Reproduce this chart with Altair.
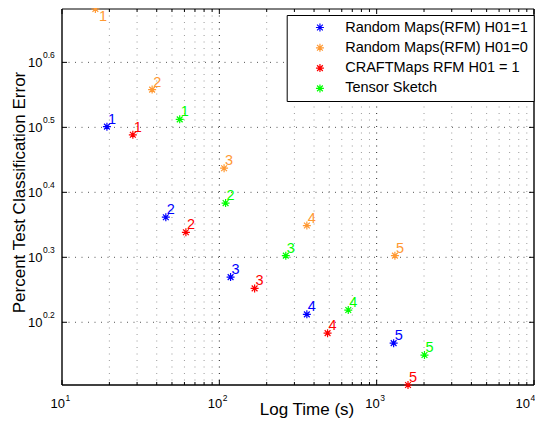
import altair as alt
import pandas as pd

# ---------------- data ----------------
series_names = ["Random Maps(RFM) H01=1", "Random Maps(RFM) H01=0",
                "CRAFTMaps RFM H01 = 1", "Tensor Sketch"]
series_colors = ["#0000ff", "#ff9933", "#ff0000", "#00ff00"]
point_labels = ["1", "2", "3", "4", "5"]

rfm_h1_time = [19.3, 45.7, 117.9, 360, 1282]
rfm_h1_err = [3.17, 2.30, 1.86, 1.63, 1.472]
rfm_h0_time = [16.3, 37.4, 107.2, 360, 1306]
rfm_h0_err = [4.81, 3.615, 2.736, 2.233, 2.007]
craft_time = [28.2, 61.3, 167.6, 487.5, 1582]
craft_err = [3.08, 2.18, 1.787, 1.525, 1.269]
ts_time = [56.0, 109.6, 264.5, 660, 2013]
ts_err = [3.253, 2.418, 2.007, 1.655, 1.411]

x_tick_exps = ["1", "2", "3", "4"]
y_tick_exps = ["0.2", "0.3", "0.4", "0.5", "0.6"]

# ---------------- tables ----------------
rows = []
for name, xs_, ys_ in zip(series_names,
                          [rfm_h1_time, rfm_h0_time, craft_time, ts_time],
                          [rfm_h1_err, rfm_h0_err, craft_err, ts_err]):
    for lab, xv, yv in zip(point_labels, xs_, ys_):
        rows.append({"series": name, "label": lab, "time": xv, "err": yv})
df = pd.DataFrame(rows)

all_err = rfm_h1_err + rfm_h0_err + craft_err + ts_err
x_domain = [10 ** int(x_tick_exps[0]), 10 ** int(x_tick_exps[-1])]
y_domain = [min(all_err), max(all_err)]

x_major = [10 ** int(e) for e in x_tick_exps]
x_minor = [m * 10 ** d for d in range(int(x_tick_exps[0]), int(x_tick_exps[-1])) for m in range(2, 10)]
df_xmaj = pd.DataFrame({"v": x_major, "base": "10", "exp": x_tick_exps})
df_xmin = pd.DataFrame({"v": x_minor})
df_xgrid_major = pd.DataFrame({"v": x_major[1:-1]})
df_y = pd.DataFrame({"v": [10 ** float(e) for e in y_tick_exps], "base": "10", "exp": y_tick_exps})
one = pd.DataFrame({"k": [0]})

# ---------------- style ----------------
W, H = 472, 376
FONT = "Liberation Sans"
STAR = "M-1,0L1,0M0,-1L0,1M-0.72,-0.72L0.72,0.72M-0.72,0.72L0.72,-0.72"
xs = alt.Scale(type="log", domain=x_domain, nice=False)
ys = alt.Scale(type="log", domain=y_domain, nice=False)
cscale = alt.Scale(domain=series_names, range=series_colors)
DASH = [1, 5.5]

# grid
xgrid_minor = alt.Chart(df_xmin).mark_rule(color="#9a9a9a", strokeWidth=1, strokeDash=DASH).encode(
    x=alt.X("v:Q", scale=xs, axis=None), y=alt.value(0), y2=alt.value(H))
xgrid_major = alt.Chart(df_xgrid_major).mark_rule(color="#222222", strokeWidth=1, strokeDash=DASH).encode(
    x=alt.X("v:Q", scale=xs, axis=None), y=alt.value(0), y2=alt.value(H))
ygrid = alt.Chart(df_y).mark_rule(color="#555555", strokeWidth=1, strokeDash=DASH).encode(
    y=alt.Y("v:Q", scale=ys, axis=None), x=alt.value(0), x2=alt.value(W))

# ticks (inward)
tick_style = dict(color="black", strokeWidth=1)
xt_maj_b = alt.Chart(df_xmaj).mark_rule(**tick_style).encode(
    x=alt.X("v:Q", scale=xs, axis=None), y=alt.value(H), y2=alt.value(H - 5))
xt_maj_t = alt.Chart(df_xmaj).mark_rule(**tick_style).encode(
    x=alt.X("v:Q", scale=xs, axis=None), y=alt.value(0), y2=alt.value(5))
xt_min_b = alt.Chart(df_xmin).mark_rule(**tick_style).encode(
    x=alt.X("v:Q", scale=xs, axis=None), y=alt.value(H), y2=alt.value(H - 3))
xt_min_t = alt.Chart(df_xmin).mark_rule(**tick_style).encode(
    x=alt.X("v:Q", scale=xs, axis=None), y=alt.value(0), y2=alt.value(3))
yt_l = alt.Chart(df_y).mark_rule(**tick_style).encode(
    y=alt.Y("v:Q", scale=ys, axis=None), x=alt.value(0), x2=alt.value(5))
yt_r = alt.Chart(df_y).mark_rule(**tick_style).encode(
    y=alt.Y("v:Q", scale=ys, axis=None), x=alt.value(W - 5), x2=alt.value(W))

# frame
frame_b = alt.Chart(one).mark_rule(color="black", strokeWidth=1.4).encode(
    x=alt.value(0), x2=alt.value(W), y=alt.value(H))
frame_l = alt.Chart(one).mark_rule(color="black", strokeWidth=1.4).encode(
    x=alt.value(0), y=alt.value(0), y2=alt.value(H))
frame_t = alt.Chart(one).mark_rule(color="black", strokeWidth=1).encode(
    x=alt.value(0), x2=alt.value(W), y=alt.value(0))
frame_r = alt.Chart(one).mark_rule(color="black", strokeWidth=1.4).encode(
    x=alt.value(W), y=alt.value(0), y2=alt.value(H))

# tick labels
last = "datum.v == " + str(x_major[-1])
xl_base = alt.Chart(df_xmaj).transform_filter("!(" + last + ")").mark_text(
    font=FONT, fontSize=13, align="right", baseline="alphabetic", dx=3, color="black").encode(
    x=alt.X("v:Q", scale=xs, axis=None), y=alt.value(H + 23), text="base:N")
xl_exp = alt.Chart(df_xmaj).transform_filter("!(" + last + ")").mark_text(
    font=FONT, fontSize=8.5, align="left", baseline="alphabetic", dx=3.5, color="black").encode(
    x=alt.X("v:Q", scale=xs, axis=None), y=alt.value(H + 15.5), text="exp:N")
xl_base_last = alt.Chart(df_xmaj).transform_filter(last).mark_text(
    font=FONT, fontSize=13, align="right", baseline="alphabetic", dx=-4, color="black").encode(
    x=alt.X("v:Q", scale=xs, axis=None), y=alt.value(H + 23), text="base:N")
xl_exp_last = alt.Chart(df_xmaj).transform_filter(last).mark_text(
    font=FONT, fontSize=8.5, align="left", baseline="alphabetic", dx=-3.5, color="black").encode(
    x=alt.X("v:Q", scale=xs, axis=None), y=alt.value(H + 15.5), text="exp:N")
yl_base = alt.Chart(df_y).mark_text(font=FONT, fontSize=13, align="right", baseline="alphabetic",
                                    dy=5, color="black").encode(
    y=alt.Y("v:Q", scale=ys, axis=None), x=alt.value(-19.5), text="base:N")
yl_exp = alt.Chart(df_y).mark_text(font=FONT, fontSize=8.5, align="left", baseline="alphabetic",
                                   dy=-4.5, color="black").encode(
    y=alt.Y("v:Q", scale=ys, axis=None), x=alt.value(-19), text="exp:N")

# axis titles
x_title = alt.Chart(pd.DataFrame({"t": ["Log Time (s)"]})).mark_text(
    font=FONT, fontSize=17, align="center", baseline="alphabetic", color="black").encode(
    x=alt.value(245), y=alt.value(H + 30), text="t:N")
y_title = alt.Chart(pd.DataFrame({"t": ["Percent Test Classification Error"]})).mark_text(
    font=FONT, fontSize=17, align="center", baseline="alphabetic", angle=270, color="black").encode(
    x=alt.value(-37), y=alt.value(183.5), text="t:N")

# points
points = alt.Chart(df).mark_point(shape=STAR, filled=False, size=64, strokeWidth=1.2, opacity=1).encode(
    x=alt.X("time:Q", scale=xs, axis=None),
    y=alt.Y("err:Q", scale=ys, axis=None),
    color=alt.Color("series:N", scale=cscale, legend=alt.Legend(
        title=None, orient="none", legendX=224.7, legendY=6,
        fillColor="white", strokeColor="black", padding=5, clipHeight=15,
        symbolType=STAR, symbolSize=64, symbolStrokeWidth=1.2, symbolFillColor="transparent",
        symbolOffset=21, labelOffset=18, labelFont=FONT, labelFontSize=14.5,
        labelColor="black", rowPadding=4.3, labelLimit=400, cornerRadius=0)),
)

is_top = "datum.series == '" + series_names[1] + "' && datum.label == '1'"
labels = alt.Chart(df).transform_filter("!(" + is_top + ")").mark_text(
    font=FONT, fontSize=14.5, align="left", baseline="alphabetic", dx=1, dy=-3).encode(
    x=alt.X("time:Q", scale=xs, axis=None),
    y=alt.Y("err:Q", scale=ys, axis=None),
    text="label:N",
    color=alt.Color("series:N", scale=cscale, legend=None))
label_top = alt.Chart(df).transform_filter(is_top).mark_text(
    font=FONT, fontSize=14.5, align="left", baseline="alphabetic", dx=3.5, dy=12).encode(
    x=alt.X("time:Q", scale=xs, axis=None),
    y=alt.Y("err:Q", scale=ys, axis=None),
    text="label:N",
    color=alt.Color("series:N", scale=cscale, legend=None))

chart = alt.layer(
    xgrid_minor, xgrid_major, ygrid,
    xt_maj_b, xt_maj_t, xt_min_b, xt_min_t, yt_l, yt_r,
    frame_b, frame_l, frame_t, frame_r,
    xl_base, xl_exp, xl_base_last, xl_exp_last, yl_base, yl_exp, x_title, y_title,
    points, labels, label_top,
).properties(
    width=W, height=H,
    autosize=alt.AutoSizeParams(type="none"),
    padding={"left": 54, "top": 1, "right": 1, "bottom": 34},
    background="white",
).configure_view(stroke=None)

chart.save("out.html", embed_options={"renderer": "svg", "actions": False})
